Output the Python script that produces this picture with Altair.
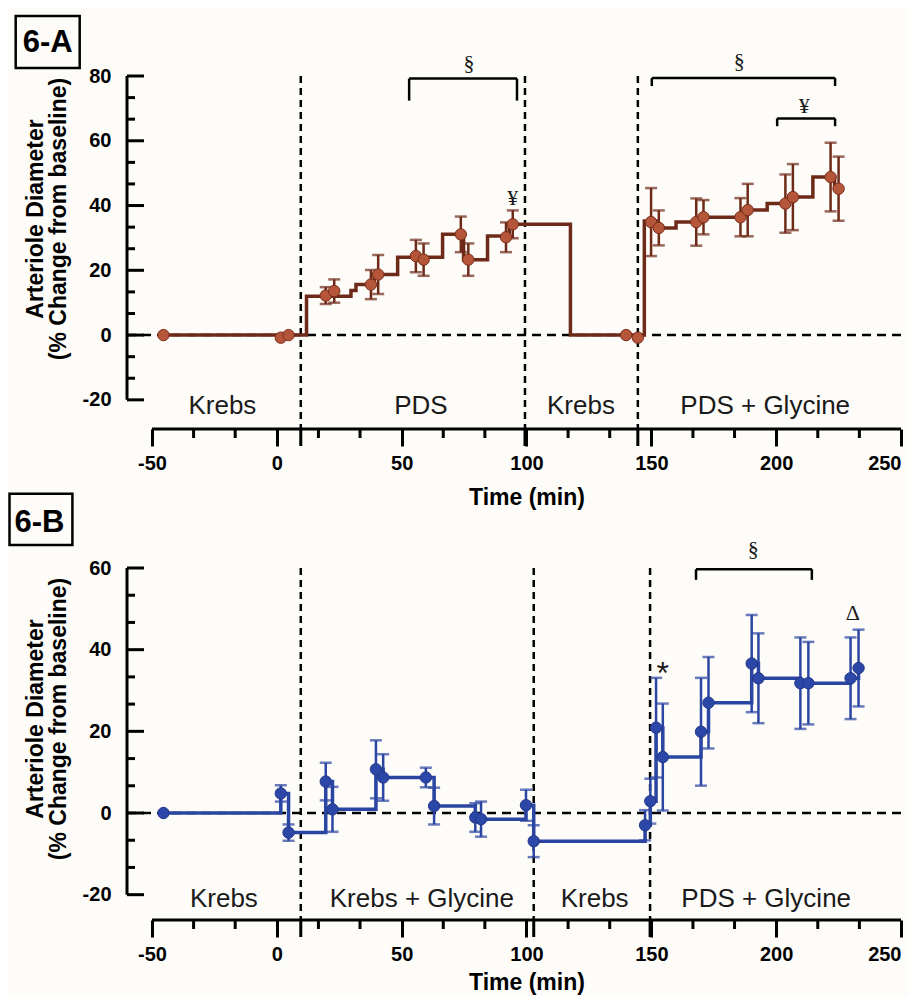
import altair as alt
import pandas as pd

# ---------------- data ----------------
# Panel 6-A
A_time = [-45.4, 1.6, 4.7, 19.6, 23.0, 37.7, 40.6, 55.7, 58.8, 73.7, 76.7, 91.8, 94.5,
          139.9, 144.6, 149.9, 153.0, 168.0, 170.9, 185.7, 188.6, 203.7, 206.7, 221.8, 225.0]
A_mean = [0.0, -0.8, 0.0, 12.2, 13.6, 15.6, 18.7, 24.4, 23.3, 31.1, 23.3, 30.2, 34.2,
          0.0, -0.8, 34.9, 33.1, 34.9, 36.4, 36.4, 38.6, 40.6, 42.6, 48.8, 45.2]
A_sem = [0, 0, 0, 2.6, 3.6, 4.5, 6.0, 5.0, 5.0, 5.5, 5.0, 4.6, 4.3,
         0, 0, 10.5, 5.4, 7.3, 5.3, 5.9, 8.1, 9.0, 10.2, 10.6, 9.9]
A_step_time = [-45.4, 11.9, 29.7, 31.7, 39.0, 48.4, 66.4, 74.8, 84.4, 93.1, 117.6,
               147.2, 151.9, 159.9, 170.0, 187.3, 196.4, 205.3, 214.7, 223.4, 225.0]
A_step_val = [0.0, 12.0, 13.8, 15.6, 18.7, 24.0, 31.1, 23.3, 30.6, 34.2, 0.0,
              35.2, 33.1, 34.9, 36.4, 38.6, 40.6, 42.6, 48.8, 45.2, 45.2]
A_phase_lines = [9.6, 99.4, 144.6]
A_phase_time = [-21.8, 57.7, 121.8, 195.6]
A_phase_name = ["Krebs", "PDS", "Krebs", "PDS + Glycine"]
A_br_left = [53.0, 150.2, 200.4]
A_br_right = [96.2, 223.6, 223.6]
A_br_top = [79.2, 79.4, 66.9]
A_br_bottom = [72.4, 76.9, 64.5]
A_sym_time = [77.0, 185.2, 211.3, 94.5]
A_sym_val = [84.0, 84.6, 70.7, 42.4]
A_sym_text = ["§", "§", "¥", "¥"]
A_star_time = []
A_star_val = []

# Panel 6-B
B_time = [-45.4, 1.6, 4.7, 19.6, 22.3, 39.7, 42.6, 59.7, 63.0, 79.5, 81.8, 99.8, 102.9,
          147.5, 149.6, 151.9, 154.6, 169.9, 172.9, 190.2, 192.9, 209.7, 212.9, 229.8, 233.0]
B_mean = [0.0, 4.8, -4.8, 7.7, 0.9, 10.7, 8.7, 8.7, 1.7, -1.1, -1.5, 1.9, -6.9,
          -3.0, 2.9, 20.9, 13.7, 19.9, 27.0, 36.6, 33.0, 31.8, 31.8, 33.0, 35.5]
B_sem = [0, 2.0, 2.0, 4.6, 5.5, 7.1, 5.7, 2.4, 4.5, 3.5, 4.3, 3.8, 3.9,
         3.7, 5.5, 12.2, 13.1, 13.2, 11.2, 11.9, 11.0, 11.2, 10.1, 10.0, 9.4]
B_phase_lines = [9.6, 102.9, 149.5]
B_phase_time = [-21.2, 58.1, 127.3, 196.0]
B_phase_name = ["Krebs", "Krebs + Glycine", "Krebs", "PDS + Glycine"]
B_br_left = [167.9]
B_br_right = [214.3]
B_br_top = [59.7]
B_br_bottom = [57.1]
B_sym_time = [190.8, 230.7]
B_sym_val = [64.7, 49.1]
B_sym_text = ["§", "Δ"]
B_star_time = [154.6]
B_star_val = [31.5]

# axis tick values
X_MAJOR = [-50, 0, 50, 100, 150, 200, 250]
X_MINOR = [-33.33, -16.67, 16.67, 33.33, 66.67, 83.33, 116.67, 133.33,
           166.67, 183.33, 216.67, 233.33]
A_Y_MAJOR = [-20, 0, 20, 40, 60, 80]
A_Y_MINOR = [-13.33, -6.67, 6.67, 13.33, 26.67, 33.33, 46.67, 53.33, 66.67, 73.33]
B_Y_MAJOR = [-20, 0, 20, 40, 60]
B_Y_MINOR = [-13.33, -6.67, 6.67, 13.33, 26.67, 33.33, 46.67, 53.33]

FONT = "Liberation Sans"
SERIF = "Liberation Serif"
XDOM = [-60, 250]
W = 774


def panel(name, t, m, sem, step_t, step_v, ydom, height, ymajor, yminor,
          plines, ptime, pname, plabel_v, brl, brr, brt, brb,
          symt, symv, symtext, start, starv, line_col, fill_col, edge_col,
          box, box_text_xy, ytitle_y, xtitle_y):
    xs = alt.Scale(domain=XDOM, nice=False, zero=False)
    ys = alt.Scale(domain=ydom, nice=False, zero=False)
    xaxis = alt.Axis(values=X_MAJOR, domain=False, grid=False, tickSize=17, tickWidth=3,
                     tickColor="black", labelFont=FONT, labelFontSize=20,
                     labelFontWeight="bold", labelColor="black", labelPadding=7,
                     labelExpr="'' + datum.value",
                     title="Time (min)", titleFont=FONT, titleFontSize=23,
                     titleFontWeight="bold", titleColor="black",
                     titleX=(100 - XDOM[0]) * W / (XDOM[1] - XDOM[0]), titleY=xtitle_y,
                     titleBaseline="alphabetic", titleAlign="center")
    yaxis = alt.Axis(values=ymajor, domain=False, grid=False, ticks=False, tickSize=0,
                     labelFont=FONT, labelFontSize=20, labelFontWeight="bold",
                     labelColor="black", labelPadding=16,
                     labelExpr="'' + datum.value", title=None)

    def X(f):
        return alt.X(f, type="quantitative", scale=xs, axis=xaxis)

    def Y(f):
        return alt.Y(f, type="quantitative", scale=ys, axis=yaxis)

    pts = pd.DataFrame({"t": t, "v": m, "e": sem})
    pts["lo"] = pts["v"] - pts["e"]
    pts["hi"] = pts["v"] + pts["e"]
    eb = pts[pts["e"] > 0]
    caps = pd.concat([eb[["t", "lo"]].rename(columns={"lo": "v"}),
                      eb[["t", "hi"]].rename(columns={"hi": "v"})])
    step = pd.DataFrame({"t": step_t, "v": step_v})

    layers = []
    # y axis line and inward ticks
    layers.append(alt.Chart(pd.DataFrame({"v": [ymajor[0]], "v2": [ymajor[-1]]}))
                  .mark_rule(color="black", strokeWidth=3)
                  .encode(x=alt.value(0), y=Y("v"), y2="v2"))
    layers.append(alt.Chart(pd.DataFrame({"v": ymajor}))
                  .mark_rule(color="black", strokeWidth=3)
                  .encode(x=alt.value(0), x2=alt.value(17), y=Y("v")))
    layers.append(alt.Chart(pd.DataFrame({"v": yminor}))
                  .mark_rule(color="black", strokeWidth=3)
                  .encode(x=alt.value(0), x2=alt.value(8), y=Y("v")))
    # x axis line and minor ticks
    layers.append(alt.Chart(pd.DataFrame({"t": [X_MAJOR[0]], "t2": [X_MAJOR[-1]]}))
                  .mark_rule(color="black", strokeWidth=3)
                  .encode(x=X("t"), x2="t2", y=alt.value(height)))
    layers.append(alt.Chart(pd.DataFrame({"t": X_MINOR}))
                  .mark_rule(color="black", strokeWidth=3)
                  .encode(x=X("t"), y=alt.value(height), y2=alt.value(height + 9)))
    layers.append(alt.Chart(pd.DataFrame({"t": plines}))
                  .mark_rule(color="black", strokeWidth=3)
                  .encode(x=X("t"), y=alt.value(height), y2=alt.value(height + 17)))
    # zero line and phase lines
    layers.append(alt.Chart(pd.DataFrame({"t": [XDOM[0]], "t2": [XDOM[1]], "v": [0]}))
                  .mark_rule(color="black", strokeWidth=2.5, strokeDash=[9, 6])
                  .encode(x=X("t"), x2="t2", y=Y("v")))
    layers.append(alt.Chart(pd.DataFrame({"t": plines}))
                  .mark_rule(color="black", strokeWidth=2.5, strokeDash=[7, 5])
                  .encode(x=X("t"), y=alt.value(0), y2=alt.value(height)))
    # phase labels
    layers.append(alt.Chart(pd.DataFrame({"t": ptime, "v": [plabel_v] * len(ptime), "s": pname}))
                  .mark_text(font=FONT, fontSize=26, color="#1a1a1a", baseline="middle")
                  .encode(x=X("t"), y=Y("v"), text="s:N"))
    # brackets
    br = pd.DataFrame({"l": brl, "r": brr, "top": brt, "bot": brb})
    layers.append(alt.Chart(br).mark_rule(color="black", strokeWidth=2.5)
                  .encode(x=X("l"), x2="r", y=Y("top")))
    layers.append(alt.Chart(br).mark_rule(color="black", strokeWidth=2.5)
                  .encode(x=X("l"), y=Y("top"), y2="bot"))
    layers.append(alt.Chart(br).mark_rule(color="black", strokeWidth=2.5)
                  .encode(x=X("r"), y=Y("top"), y2="bot"))
    layers.append(alt.Chart(pd.DataFrame({"t": symt, "v": symv, "s": symtext}))
                  .mark_text(font=SERIF, fontSize=22, color="#1a1a1a", baseline="middle")
                  .encode(x=X("t"), y=Y("v"), text="s:N"))
    if start:
        layers.append(alt.Chart(pd.DataFrame({"t": start, "v": starv, "s": ["*"] * len(start)}))
                      .mark_text(font=FONT, fontSize=32, color="#1a1a1a", baseline="alphabetic")
                      .encode(x=X("t"), y=Y("v"), text="s:N"))
    # data: step line, error bars, points
    layers.append(alt.Chart(step).mark_line(interpolate="step-after", color=line_col,
                                             strokeWidth=3.5)
                  .encode(x=X("t"), y=Y("v")))
    layers.append(alt.Chart(eb).mark_rule(color=line_col, strokeWidth=2.5)
                  .encode(x=X("t"), y=Y("lo"), y2="hi"))
    layers.append(alt.Chart(caps).mark_tick(color=line_col, orient="horizontal",
                                            size=12, thickness=2.5)
                  .encode(x=X("t"), y=Y("v")))
    layers.append(alt.Chart(pts).mark_point(shape="circle", filled=True, size=130,
                                            fill=fill_col, stroke=edge_col,
                                            strokeWidth=1, opacity=1)
                  .encode(x=X("t"), y=Y("v")))
    # y title (two lines)
    layers.append(alt.Chart(pd.DataFrame({"s": ["Arteriole Diameter"]}))
                  .mark_text(font=FONT, fontSize=23, fontWeight="bold", angle=270,
                             color="black", baseline="middle", align="center")
                  .encode(x=alt.value(-91), y=alt.value(ytitle_y), text="s:N"))
    layers.append(alt.Chart(pd.DataFrame({"s": ["(% Change from baseline)"]}))
                  .mark_text(font=FONT, fontSize=23, fontWeight="bold", angle=270,
                             color="black", baseline="middle", align="center")
                  .encode(x=alt.value(-68.5), y=alt.value(ytitle_y), text="s:N"))
    # panel tag box
    x0, x1, y0, y1 = box
    layers.append(alt.Chart(pd.DataFrame({"s": [name]}))
                  .mark_rect(filled=False, stroke="black", strokeWidth=2.5)
                  .encode(x=alt.value(x0), x2=alt.value(x1), y=alt.value(y0), y2=alt.value(y1)))
    layers.append(alt.Chart(pd.DataFrame({"s": [name]}))
                  .mark_text(font=FONT, fontSize=31, fontWeight="bold", color="black",
                             baseline="middle", align="center")
                  .encode(x=alt.value(box_text_xy[0]), y=alt.value(box_text_xy[1]), text="s:N"))
    return alt.layer(*layers).properties(width=W, height=height)


A = panel("6-A", A_time, A_mean, A_sem, A_step_time, A_step_val, [-29, 80], 353,
          A_Y_MAJOR, A_Y_MINOR, A_phase_lines, A_phase_time, A_phase_name, -22.0,
          A_br_left, A_br_right, A_br_top, A_br_bottom,
          A_sym_time, A_sym_val, A_sym_text, A_star_time, A_star_val,
          "#6e2a18", "#b5553a", "#7a2e1a",
          (-111.3, -47.3, -60, -8), (-79.3, -33), 143, 75)

B = panel("6-B", B_time, B_mean, B_sem, B_time, B_mean, [-26.2, 60], 352,
          B_Y_MAJOR, B_Y_MINOR, B_phase_lines, B_phase_time, B_phase_name, -21.0,
          B_br_left, B_br_right, B_br_top, B_br_bottom,
          B_sym_time, B_sym_val, B_sym_text, B_star_time, B_star_val,
          "#2b45a3", "#2c47a8", "#22388a",
          (-117.5, -54.6, -74.3, -23), (-87.5, -45.5), 151, 69)

chart = alt.vconcat(A, B, spacing=139, bounds="flush").properties(
    padding={"left": 0, "top": 6, "right": 5, "bottom": 5},
    background="#fdfcf9",
).configure_view(stroke=None)

chart.save("out.html", embed_options={"renderer": "svg", "actions": False})
